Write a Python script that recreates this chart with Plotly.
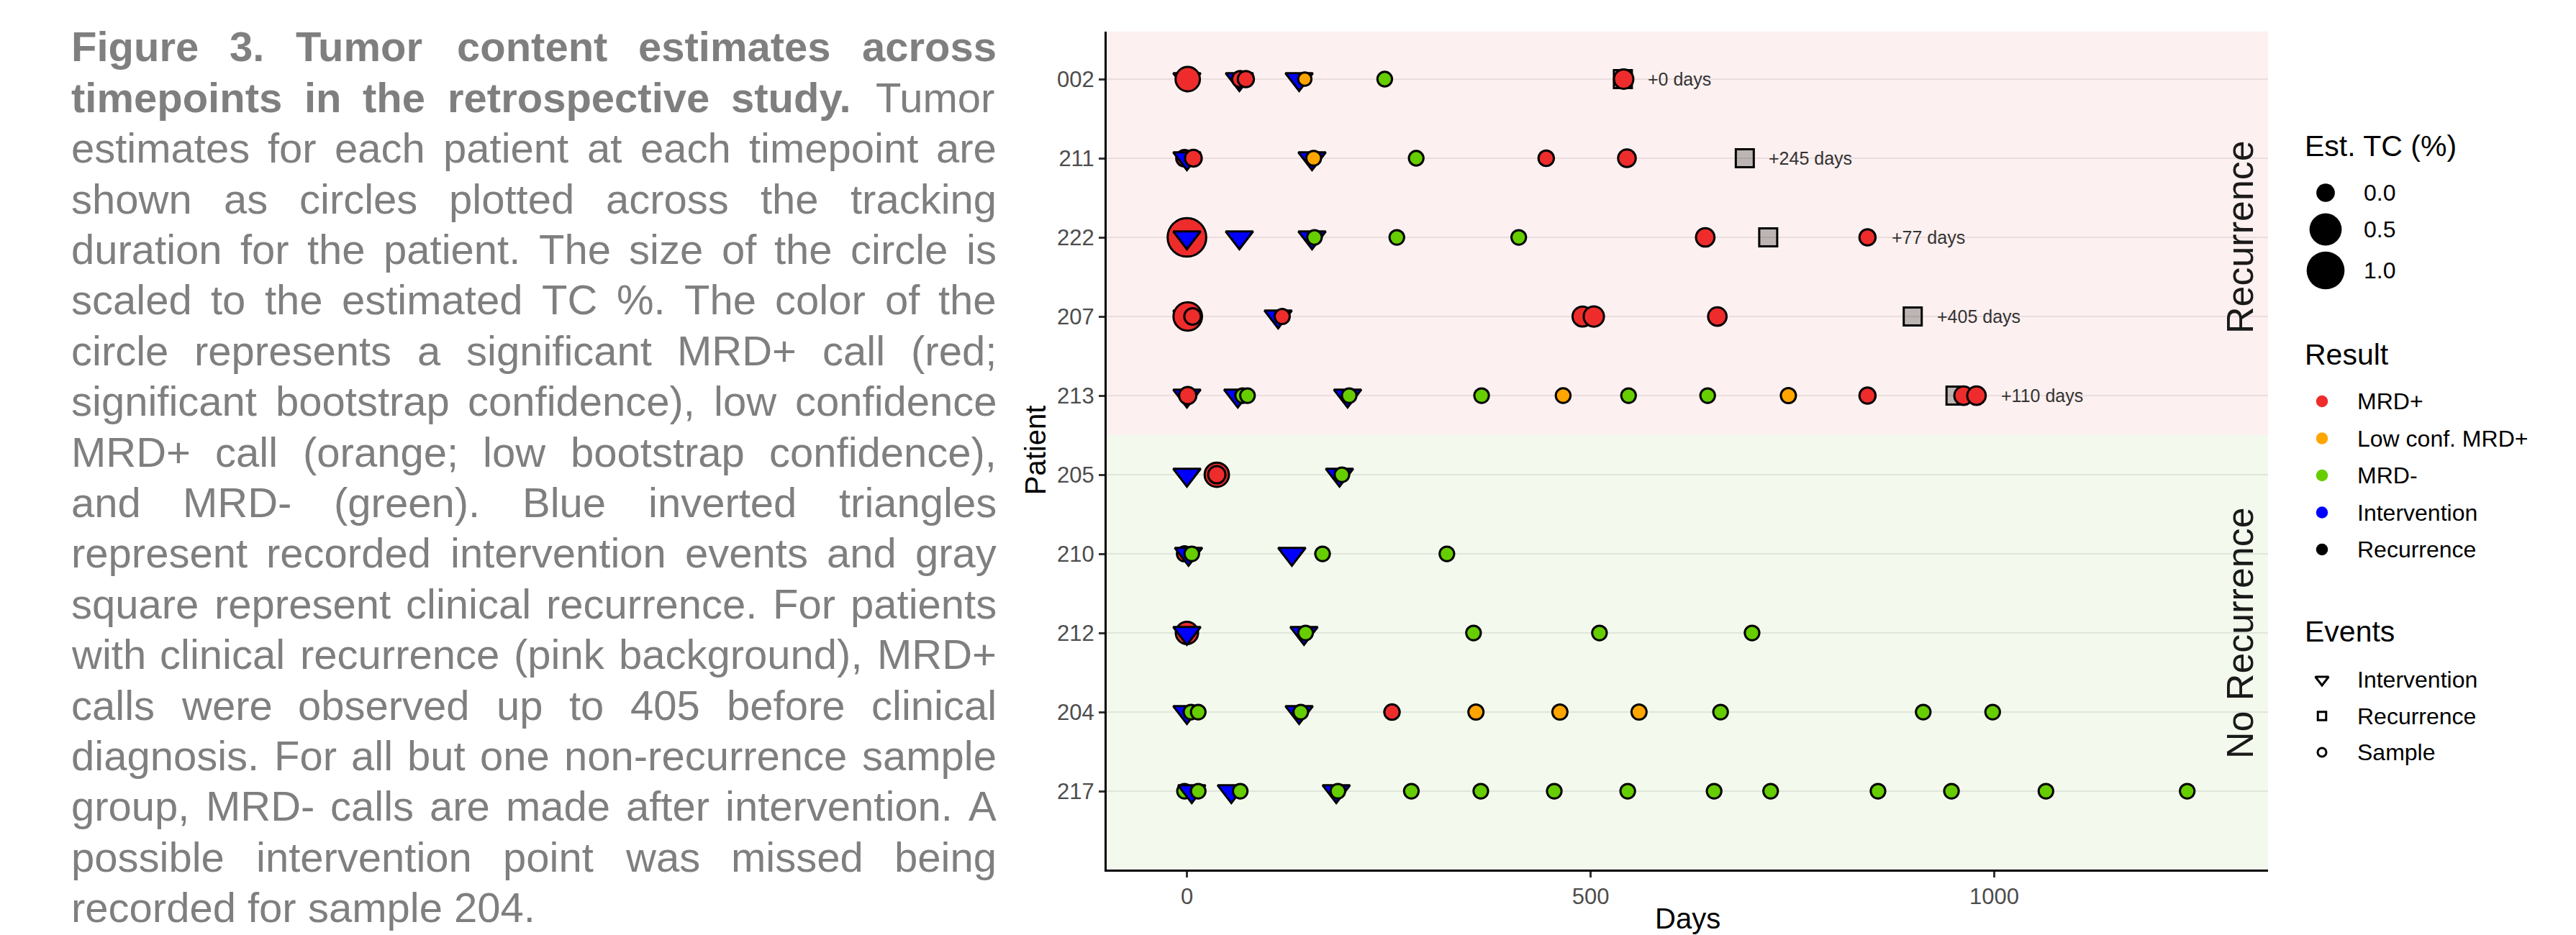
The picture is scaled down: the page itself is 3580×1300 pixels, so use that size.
import math
import plotly.graph_objects as go

W, H = 3580, 1300
FONT = "Liberation Sans, Arial, Helvetica, sans-serif"

# ---------------- data ----------------
patients = ["002", "211", "222", "207", "213", "205", "210", "212", "204", "217"]
patient_group = ["Recurrence"] * 5 + ["No Recurrence"] * 5

POS, LOW, NEG = "MRD+", "Low conf. MRD+", "MRD-"

sample_days = [
    [1, 66, 73, 146, 245, 541],
    [-3, 8, 157, 284, 445, 545],
    [0, 158, 260, 411, 642, 843],
    [1, 7, 118, 490, 504, 657],
    [1, 69, 75, 201, 365, 466, 547, 645, 745, 843, 962, 978],
    [37, 37, 192],
    [-3, 6, 168, 322],
    [0, 147, 355, 511, 700],
    [5, 14, 141, 254, 358, 462, 560, 661, 912, 998],
    [-3, 14, 66, 187, 278, 364, 455, 546, 653, 723, 856, 947, 1064, 1239],
]
sample_results = [
    [POS, POS, POS, LOW, NEG, POS],
    [POS, POS, LOW, NEG, POS, POS],
    [POS, NEG, NEG, NEG, POS, POS],
    [POS, POS, POS, POS, POS, POS],
    [POS, NEG, NEG, NEG, NEG, LOW, NEG, NEG, LOW, POS, POS, POS],
    [POS, POS, NEG],
    [POS, NEG, NEG, NEG],
    [POS, NEG, NEG, NEG, NEG],
    [NEG, NEG, NEG, POS, LOW, LOW, LOW, NEG, NEG, NEG],
    [NEG] * 14,
]
sample_tc = [
    [0.30, 0.02, 0.02, 0.0, 0.004, 0.09],
    [0.026, 0.03, 0.005, 0.004, 0.011, 0.046],
    [1.58, 0.004, 0.004, 0.004, 0.066, 0.02],
    [0.57, 0.026, 0.008, 0.11, 0.12, 0.066],
    [0.039, 0.004, 0.004, 0.004, 0.004, 0.005, 0.004, 0.004, 0.008, 0.02, 0.066, 0.066],
    [0.30, 0.04, 0.004],
    [0.008, 0.004, 0.004, 0.004],
    [0.20, 0.004, 0.004, 0.004, 0.004],
    [0.004, 0.004, 0.004, 0.011, 0.008, 0.008, 0.008, 0.004, 0.004, 0.004],
    [0.004] * 14,
]
intervention_days = [
    [0, 65, 139],
    [0, 155],
    [0, 65, 155],
    [0, 113],
    [0, 63, 199],
    [0, 189],
    [2, 130],
    [0, 145],
    [0, 139],
    [6, 55, 185],
]
recurrence_days = [540, 691, 720, 899, 952, None, None, None, None, None]
lead_labels = ["+0 days", "+245 days", "+77 days", "+405 days", "+110 days",
               None, None, None, None, None]

x_ticks = [0, 500, 1000]
size_breaks = [0.0, 0.5, 1.0]
result_names = [POS, LOW, NEG, "Intervention", "Recurrence"]
event_names = ["Intervention", "Recurrence", "Sample"]

caption_lines = [
    "Figure 3. Tumor content estimates across",
    "timepoints in the retrospective study. Tumor",
    "estimates for each patient at each timepoint are",
    "shown as circles plotted across the tracking",
    "duration for the patient. The size of the circle is",
    "scaled to the estimated TC %. The color of the",
    "circle represents a significant MRD+ call (red;",
    "significant bootstrap confidence), low confidence",
    "MRD+ call (orange; low bootstrap confidence),",
    "and MRD- (green). Blue inverted triangles",
    "represent recorded intervention events and gray",
    "square represent clinical recurrence. For patients",
    "with clinical recurrence (pink background), MRD+",
    "calls were observed up to 405 before clinical",
    "diagnosis. For all but one non-recurrence sample",
    "group, MRD- calls are made after intervention.  A",
    "possible intervention point was missed being",
    "recorded for sample 204.",
]
caption_bold = "Figure 3. Tumor content estimates across timepoints in the retrospective study."

# ---------------- styles ----------------
colors = {POS: "#EE2C2C", LOW: "#FFA500", NEG: "#66CD00",
          "Intervention": "#0000FF", "Recurrence": "#000000"}
RECUR_FILL = "rgba(0,0,0,0.25)"
PINK_BG = "#FDF0F0"
GREEN_BG = "#F4F9EE"


def sample_size(tc):
    return 18.5 + 28 * math.sqrt(tc)


def legend_size(v):
    return 25.7 + 27 * math.sqrt(v)


TRI_SIZE = 33
SQ_SIZE = 25

# pixel layout of the panel
PL, PR, PT, PB = 1538, 3152, 43.5, 1209
XR = [-99.4, 1339.1]
YR = [9.99, -0.6045]

# ---------------- marks ----------------
marks = []
for i in range(len(patients)):
    for d, r, tc in zip(sample_days[i], sample_results[i], sample_tc[i]):
        marks.append((d, 0, i, "circle", colors[r], sample_size(tc)))
    for d in intervention_days[i]:
        marks.append((d, 1, i, "triangle-down", colors["Intervention"], TRI_SIZE))
    if recurrence_days[i] is not None:
        marks.append((recurrence_days[i], 0, i, "square", RECUR_FILL, SQ_SIZE))
marks.sort(key=lambda m: (m[0], m[1]))

fig = go.Figure()
fig.add_trace(go.Scatter(
    x=[m[0] for m in marks], y=[m[2] for m in marks], mode="markers",
    marker=dict(symbol=[m[3] for m in marks], color=[m[4] for m in marks],
                size=[m[5] for m in marks], opacity=1,
                line=dict(color="black", width=3)),
    showlegend=False, hoverinfo="skip", xaxis="x", yaxis="y"))

annotations = []
for i, lab in enumerate(lead_labels):
    if lab is None:
        continue
    last = max(sample_days[i] + [recurrence_days[i]])
    annotations.append(dict(x=last + 30, y=i, xref="x", yref="y", text=lab,
                            xanchor="left", yanchor="middle", showarrow=False,
                            borderpad=0, borderwidth=0,
                            font=dict(size=25, color="#333333", family=FONT)))

# strip labels (facet labels)
for g in ["Recurrence", "No Recurrence"]:
    idx = [i for i, pg in enumerate(patient_group) if pg == g]
    annotations.append(dict(x=3113 / W, y=sum(idx) / len(idx), xref="paper", yref="y",
                            text=g, textangle=-90, showarrow=False,
                            xanchor="center", yanchor="middle",
                            font=dict(size=52, color="#1A1A1A", family=FONT)))

# axis titles
annotations.append(dict(x=(PL + PR) / 2 / W, y=1 - 1277 / H, xref="paper", yref="paper",
                        text="Days", showarrow=False, xanchor="center", yanchor="middle",
                        font=dict(size=40, color="black", family=FONT)))
annotations.append(dict(x=1439 / W, y=1 - ((PT + PB) / 2) / H, xref="paper", yref="paper",
                        text="Patient", textangle=-90, showarrow=False,
                        xanchor="center", yanchor="middle",
                        font=dict(size=40, color="black", family=FONT)))

# ---------------- legend (drawn on an auxiliary axis in pixel units) ----------------
LX0 = 3160
leg_x, leg_y, leg_sym, leg_col, leg_size, leg_lw = [], [], [], [], [], []
TITLE_X, GLYPH_X, LABEL_X = 3203, 3227, 3276
STEP = 51.5

annotations.append(dict(x=TITLE_X / W, y=1 - 203 / H, xref="paper", yref="paper",
                        text="Est. TC (%)", showarrow=False, xanchor="left", yanchor="middle",
                        borderpad=0, borderwidth=0,
                        font=dict(size=41, color="black", family=FONT)))
for k, (v, yy) in enumerate(zip(size_breaks, [268, 319, 376])):
    leg_x.append(3232); leg_y.append(yy); leg_sym.append("circle")
    leg_col.append("black"); leg_size.append(legend_size(v)); leg_lw.append(0)
    annotations.append(dict(x=3285 / W, y=1 - yy / H, xref="paper", yref="paper",
                            text=f"{v:.1f}", showarrow=False, xanchor="left", yanchor="middle",
                            borderpad=0, borderwidth=0,
                            font=dict(size=32, color="black", family=FONT)))

annotations.append(dict(x=TITLE_X / W, y=1 - 493 / H, xref="paper", yref="paper",
                        text="Result", showarrow=False, xanchor="left", yanchor="middle",
                        borderpad=0, borderwidth=0,
                        font=dict(size=41, color="black", family=FONT)))
for k, name in enumerate(result_names):
    yy = 558 + k * STEP
    leg_x.append(GLYPH_X); leg_y.append(yy); leg_sym.append("circle")
    leg_col.append(colors[name]); leg_size.append(16.5); leg_lw.append(0)
    annotations.append(dict(x=LABEL_X / W, y=1 - yy / H, xref="paper", yref="paper",
                            text=name, showarrow=False, xanchor="left", yanchor="middle",
                            borderpad=0, borderwidth=0,
                            font=dict(size=32, color="black", family=FONT)))

annotations.append(dict(x=TITLE_X / W, y=1 - 878 / H, xref="paper", yref="paper",
                        text="Events", showarrow=False, xanchor="left", yanchor="middle",
                        borderpad=0, borderwidth=0,
                        font=dict(size=41, color="black", family=FONT)))
event_symbols = {"Intervention": ("triangle-down-open", 16), "Recurrence": ("square-open", 11.5),
                 "Sample": ("circle-open", 12)}
for k, name in enumerate(event_names):
    yy = 945 + k * 50.5
    sym, sz = event_symbols[name]
    leg_x.append(GLYPH_X); leg_y.append(yy); leg_sym.append(sym)
    leg_col.append("black"); leg_size.append(sz); leg_lw.append(3)
    annotations.append(dict(x=LABEL_X / W, y=1 - yy / H, xref="paper", yref="paper",
                            text=name, showarrow=False, xanchor="left", yanchor="middle",
                            borderpad=0, borderwidth=0,
                            font=dict(size=32, color="black", family=FONT)))

fig.add_trace(go.Scatter(
    x=leg_x, y=leg_y, mode="markers", xaxis="x2", yaxis="y2",
    marker=dict(symbol=leg_sym, color=leg_col, size=leg_size, opacity=1,
                line=dict(color="black", width=leg_lw)),
    showlegend=False, hoverinfo="skip", cliponaxis=False))

# ---------------- caption (justified) ----------------
REG = dict(zip(" ()+,-.0123456789;%", [278, 333, 333, 584, 278, 333, 278] + [556] * 10 + [278, 889]))
REG.update(dict(zip("ABCDEFGHIJKLMNOPQRSTUVWXYZ",
                    [667, 667, 722, 722, 667, 611, 778, 722, 278, 500, 667, 556, 833, 722, 778, 667,
                     778, 722, 667, 611, 722, 667, 944, 667, 667, 611])))
REG.update(dict(zip("abcdefghijklmnopqrstuvwxyz",
                    [556, 556, 500, 556, 556, 278, 556, 556, 222, 222, 500, 222, 833, 556, 556, 556,
                     556, 333, 500, 278, 556, 500, 722, 500, 500, 500])))
BOLD = dict(REG)
BOLD.update(dict(zip("ABCDEFGHIJKLMNOPQRSTUVWXYZ",
                     [722, 722, 722, 722, 667, 611, 778, 722, 278, 556, 722, 611, 833, 722, 778, 667,
                      778, 722, 667, 611, 722, 667, 944, 667, 667, 611])))
BOLD.update(dict(zip("abcdefghijklmnopqrstuvwxyz",
                     [556, 611, 556, 611, 556, 333, 611, 611, 278, 278, 556, 278, 889, 611, 611, 611,
                      611, 389, 556, 333, 611, 556, 778, 556, 556, 500])))

CAP_FS = 58
CAP_L, CAP_R = 99, 1385
CAP_BASE0, CAP_STEP = 85, 70.4
CAP_COLOR = "#7F7F7F"


def tw(word, bold):
    tab = BOLD if bold else REG
    return sum(tab.get(c, 556) for c in word) * CAP_FS / 1000.0


n_bold = len(caption_bold.split())
seen = 0
for li, line in enumerate(caption_lines):
    words = line.split()
    bolds = []
    for w in words:
        bolds.append(seen < n_bold)
        seen += 1
    widths = [tw(w, b) for w, b in zip(words, bolds)]
    if li == len(caption_lines) - 1 or len(words) == 1:
        gap = REG[" "] * CAP_FS / 1000.0
    else:
        gap = (CAP_R - CAP_L - sum(widths)) / (len(words) - 1)
    cy = CAP_BASE0 + li * CAP_STEP - 0.3465 * CAP_FS
    x = CAP_L
    for w, b, wd in zip(words, bolds, widths):
        annotations.append(dict(x=x / W, y=1 - cy / H, xref="paper", yref="paper",
                                text=f"<b>{w}</b>" if b else w, showarrow=False,
                                xanchor="left", yanchor="middle", borderpad=0, borderwidth=0,
                                font=dict(size=CAP_FS, color=CAP_COLOR, family=FONT)))
        x += wd + gap

# ---------------- panel backgrounds ----------------
split = 4.5
shapes = [
    dict(type="rect", xref="x domain", yref="y", x0=0, x1=1, y0=YR[1], y1=split,
         fillcolor=PINK_BG, line=dict(width=0), layer="below"),
    dict(type="rect", xref="x domain", yref="y", x0=0, x1=1, y0=split, y1=YR[0],
         fillcolor=GREEN_BG, line=dict(width=0), layer="below"),
]

fig.update_layout(
    width=W, height=H,
    margin=dict(l=0, r=0, t=0, b=0, pad=0),
    paper_bgcolor="white", plot_bgcolor="rgba(0,0,0,0)",
    font=dict(family=FONT, color="black"),
    xaxis=dict(domain=[PL / W, PR / W], range=XR, tickvals=x_ticks,
               ticks="outside", ticklen=8, tickwidth=2.5, tickcolor="#333333",
               tickfont=dict(size=31, color="#4D4D4D", family=FONT),
               showline=True, linecolor="black", linewidth=3,
               showgrid=False, zeroline=False, automargin=False, anchor="y"),
    yaxis=dict(domain=[1 - PB / H, 1 - PT / H], range=YR,
               tickvals=list(range(len(patients))), ticktext=patients,
               ticks="outside", ticklen=8, tickwidth=2.5, tickcolor="#333333",
               tickfont=dict(size=31, color="#4D4D4D", family=FONT),
               showline=True, linecolor="black", linewidth=3,
               showgrid=True, gridcolor="rgba(0,0,0,0.08)", gridwidth=2.2,
               zeroline=False, automargin=False, anchor="x"),
    xaxis2=dict(domain=[LX0 / W, 1], range=[LX0, W], visible=False, anchor="y2",
                fixedrange=True),
    yaxis2=dict(domain=[0, 1], range=[H, 0], visible=False, anchor="x2", fixedrange=True),
    shapes=shapes,
    annotations=annotations,
)

fig.write_html("out.html", config={"displayModeBar": False},
               post_script="document.body.style.margin='0px';document.body.style.overflow='hidden';")
